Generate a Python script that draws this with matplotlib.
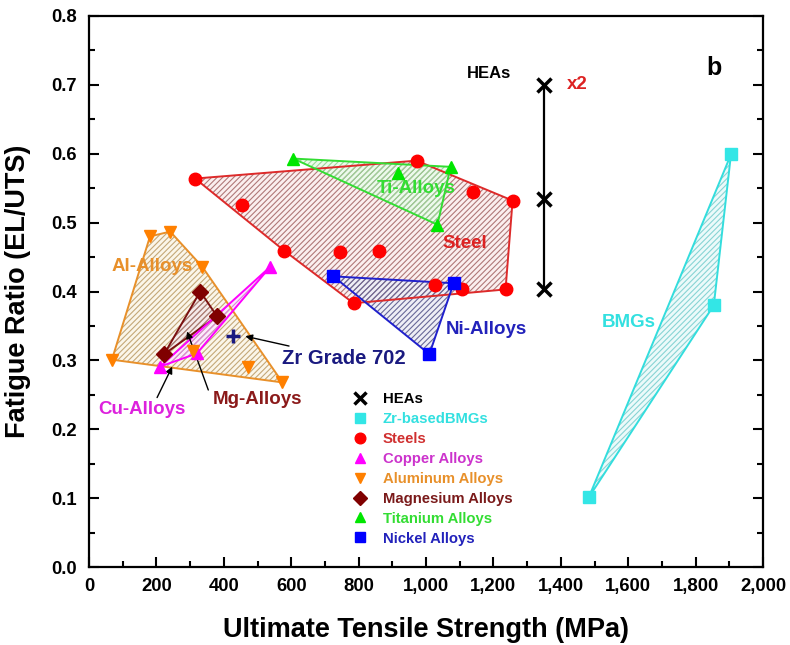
import matplotlib
matplotlib.use("Agg")
import matplotlib.pyplot as plt
from matplotlib.ticker import MultipleLocator, FuncFormatter
import numpy as np

plt.rcParams['font.family'] = ['Liberation Sans', 'DejaVu Sans']
plt.rcParams['font.weight'] = 'bold'
plt.rcParams['hatch.linewidth'] = 0.8

# ---------------- data ----------------
hea_x = [1350, 1350, 1350]
hea_y = [0.700, 0.535, 0.403]

bmg_x = [1905, 1854, 1483]
bmg_y = [0.599, 0.380, 0.101]

steel_x = [315, 455, 580, 746, 862, 972, 1138, 1257, 1028, 1108, 1236, 785]
steel_y = [0.564, 0.526, 0.459, 0.457, 0.459, 0.590, 0.545, 0.532, 0.410, 0.404, 0.403, 0.383]

cu_x = [211, 320, 538]
cu_y = [0.291, 0.310, 0.436]

al_x = [181, 241, 336, 68, 574, 473, 309]
al_y = [0.480, 0.487, 0.436, 0.301, 0.268, 0.291, 0.313]

mg_x = [330, 380, 223]
mg_y = [0.400, 0.364, 0.309]

ti_x = [606, 918, 1073, 1034]
ti_y = [0.593, 0.572, 0.581, 0.497]

ni_x = [725, 1082, 1010]
ni_y = [0.422, 0.412, 0.309]

zr702_x = [428]
zr702_y = [0.336]

legend_labels = ['HEAs', 'Zr-basedBMGs', 'Steels', 'Copper Alloys', 'Aluminum Alloys',
                 'Magnesium Alloys', 'Titanium Alloys', 'Nickel Alloys']


def hull(xs, ys):
    pts = sorted(set(zip(xs, ys)))
    if len(pts) < 3:
        return pts
    def cross(o, a, b):
        return (a[0] - o[0]) * (b[1] - o[1]) * 1000 - (a[1] - o[1]) * (b[0] - o[0]) * 1000
    lower, upper = [], []
    for p in pts:
        while len(lower) >= 2 and cross(lower[-2], lower[-1], p) <= 0:
            lower.pop()
        lower.append(p)
    for p in reversed(pts):
        while len(upper) >= 2 and cross(upper[-2], upper[-1], p) <= 0:
            upper.pop()
        upper.append(p)
    return lower[:-1] + upper[:-1]


fig = plt.figure(figsize=(7.9, 6.45), dpi=100)
ax = fig.add_axes([89 / 790, 1 - 567 / 645, (763 - 89) / 790, (567 - 16) / 645])


def region(xs, ys, edge, face, hatchc):
    h = hull(xs, ys)
    hx = [p[0] for p in h]
    hy = [p[1] for p in h]
    ax.fill(hx, hy, facecolor=face, edgecolor='none', zorder=1)
    ax.fill(hx, hy, facecolor='none', edgecolor=hatchc, hatch='//////', linewidth=0, zorder=1.5)
    ax.fill(hx, hy, facecolor='none', edgecolor=edge, linewidth=1.4, zorder=2)


region(steel_x, steel_y, '#DD2A2A', '#FBEFEF', '#B07878')
region(ti_x, ti_y, '#33DD33', '#ECFBEC', '#98D898')
region(ni_x, ni_y, '#2020CC', '#EEEEF6', '#686898')
region(al_x, al_y, '#E8902A', '#FBF6EA', '#C4A878')
region(mg_x, mg_y, '#7A1010', '#F5EAEA', '#A87878')
region(cu_x, cu_y, '#FF00FF', '#FBEAFB', '#D888D8')
region(bmg_x, bmg_y, '#33DDDD', '#ECFAFA', '#88D4D4')

ax.plot(hea_x, hea_y, color='black', lw=1.6, zorder=3)

ms = 9
h_hea, = ax.plot(hea_x, hea_y, 'x', color='black', ms=10, mew=2.5, ls='none', zorder=5)
h_bmg, = ax.plot(bmg_x, bmg_y, 's', color='#33E6E6', ms=8, ls='none', zorder=5)
h_st, = ax.plot(steel_x, steel_y, 'o', color='#FF0000', ms=ms, ls='none', zorder=5)
h_cu, = ax.plot(cu_x, cu_y, '^', color='#FF00FF', ms=ms, ls='none', zorder=5)
h_al, = ax.plot(al_x, al_y, 'v', color='#FF8000', ms=ms, ls='none', zorder=5)
h_mg, = ax.plot(mg_x, mg_y, 'D', color='#800000', ms=8, ls='none', zorder=5)
h_ti, = ax.plot(ti_x, ti_y, '^', color='#00E600', ms=ms, ls='none', zorder=5)
h_ni, = ax.plot(ni_x, ni_y, 's', color='#0000FF', ms=8, ls='none', zorder=5)
ax.plot(zr702_x, zr702_y, '+', color='#1A1A80', ms=10, mew=2.5, ls='none', zorder=5)

handles = [h_hea, h_bmg, h_st, h_cu, h_al, h_mg, h_ti, h_ni]
lab_colors = ['black', '#33E0E0', '#D03030', '#CC33CC', '#E8902A', '#7A1A1A', '#33DD33', '#2222BB']
leg = ax.legend(handles, legend_labels, loc='upper left', bbox_to_anchor=((353 - 89) / 674, (567 - 392) / 551),
                frameon=False, prop={'weight': 'bold', 'size': 10.7},
                handlelength=1.0, handletextpad=1.0, labelspacing=0.4, borderpad=0, borderaxespad=0,
                markerscale=0.85)
for t, c in zip(leg.get_texts(), lab_colors):
    t.set_color(c)

fs = 13.5
ax.text(1186, 0.717, 'HEAs', ha='center', va='center', fontsize=12, color='black')
ax.text(1450, 0.700, 'x2', ha='center', va='center', fontsize=13.5, color='#DD2222')
ax.text(1854, 0.725, 'b', ha='center', va='center', fontsize=18, color='black')
ax.text(1114, 0.470, 'Steel', ha='center', va='center', fontsize=fs, color='#DD2222')
ax.text(972, 0.549, 'Ti-Alloys', ha='center', va='center', fontsize=fs, color='#33DD33')
ax.text(1180, 0.345, 'Ni-Alloys', ha='center', va='center', fontsize=fs, color='#2222BB')
ax.text(188, 0.436, 'Al-Alloys', ha='center', va='center', fontsize=fs, color='#E8902A')
ax.text(1602, 0.355, 'BMGs', ha='center', va='center', fontsize=fs, color='#33E0E0')

arrowprops = dict(arrowstyle='-|>', color='black', lw=1.0, mutation_scale=10, shrinkA=0, shrinkB=0)
ax.annotate('Zr Grade 702', xy=(464, 0.335), xytext=(573, 0.303), ha='left', va='center',
            fontsize=14.5, color='#1A1A80', arrowprops=arrowprops)
ax.annotate('', xy=(291, 0.342), xytext=(354, 0.257), arrowprops=arrowprops)
ax.text(500, 0.243, 'Mg-Alloys', ha='center', va='center', fontsize=fs, color='#8B1A1A')
ax.annotate('', xy=(247, 0.291), xytext=(202, 0.246), arrowprops=arrowprops)
ax.text(157, 0.229, 'Cu-Alloys', ha='center', va='center', fontsize=fs, color='#DD22DD')

ax.set_xlim(0, 2000)
ax.set_ylim(0, 0.8)
ax.xaxis.set_major_locator(MultipleLocator(200))
ax.xaxis.set_minor_locator(MultipleLocator(100))
ax.yaxis.set_major_locator(MultipleLocator(0.1))
ax.yaxis.set_minor_locator(MultipleLocator(0.05))
ax.xaxis.set_major_formatter(FuncFormatter(lambda v, p: f'{int(round(v)):,}'))
ax.yaxis.set_major_formatter(FuncFormatter(lambda v, p: f'{v:.1f}'))
ax.tick_params(which='both', direction='in', right=True, top=False, width=1.5, labelsize=13.3)
ax.tick_params(which='major', length=7)
ax.tick_params(which='minor', length=4)
ax.tick_params(axis='x', which='both', pad=8)
ax.tick_params(axis='y', which='both', pad=9)
for s in ax.spines.values():
    s.set_linewidth(1.6)
ax.set_xlabel('Ultimate Tensile Strength (MPa)', fontsize=19.5, fontweight='bold', labelpad=16)
ax.set_ylabel('Fatigue Ratio (EL/UTS)', fontsize=19.5, fontweight='bold', labelpad=14)

fig.savefig('out.png', dpi=100)
